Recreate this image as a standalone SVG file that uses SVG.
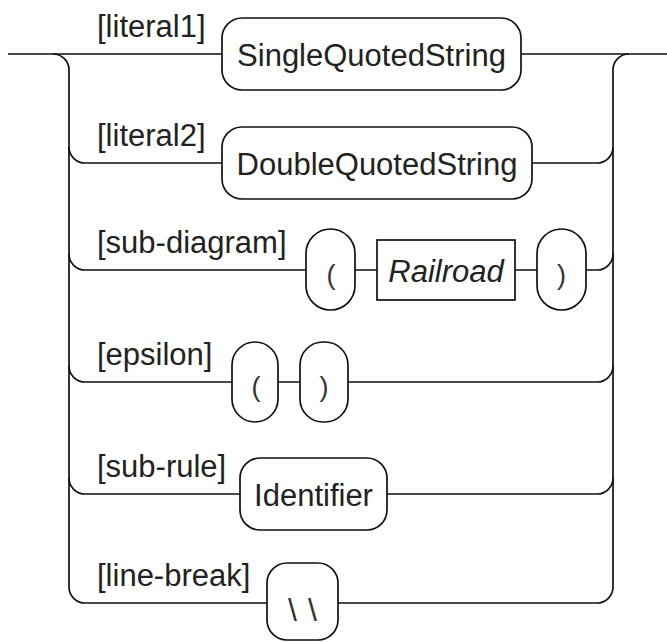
<svg xmlns="http://www.w3.org/2000/svg" width="667" height="642" viewBox="0 0 667 642">
<style>
.c{fill:none;stroke:#111;stroke-width:1.7}
.n{fill:#fff;stroke:#111;stroke-width:1.7}
.t{font-family:"Liberation Sans",Arial,sans-serif;font-size:31px;fill:#222}
.m{text-anchor:middle}
.i{font-style:italic}
.p{font-size:27px;fill:#333}
.b{font-size:32px;fill:#333}
</style>
<rect width="667" height="642" fill="#fff"/>
<g id="connectors">
<path class="c" d="M8,54 H222 M521,54 H667"/>
<path class="c" d="M53,54 A16,16 0 0 1 69,70 V587 A16,16 0 0 0 85,603 H267"/>
<path class="c" d="M69,147 A16,16 0 0 0 85,163 H222"/>
<path class="c" d="M69,254 A16,16 0 0 0 85,270 H306"/>
<path class="c" d="M69,366 A16,16 0 0 0 85,382 H232"/>
<path class="c" d="M69,478 A16,16 0 0 0 85,494 H240"/>
<path class="c" d="M629,54 A16,16 0 0 0 613,70 V587 A16,16 0 0 1 597,603 H338"/>
<path class="c" d="M532,163 H597 A16,16 0 0 0 613,147"/>
<path class="c" d="M586,270 H597 A16,16 0 0 0 613,254"/>
<path class="c" d="M348,382 H597 A16,16 0 0 0 613,366"/>
<path class="c" d="M387,494 H597 A16,16 0 0 0 613,478"/>
<path class="c" d="M355,270 H377 M515,270 H537 M278,382 H300"/>
</g>
<g id="labels">
<text class="t" x="97" y="37">[literal1]</text>
<text class="t" x="97" y="146">[literal2]</text>
<text class="t" x="97" y="253">[sub-diagram]</text>
<text class="t" x="97" y="365">[epsilon]</text>
<text class="t" x="97" y="477">[sub-rule]</text>
<text class="t" x="97" y="586">[line-break]</text>
</g>
<g id="node-single">
<rect class="n" x="222" y="18" width="299" height="72" rx="20"/>
<text class="t m" x="371.5" y="66">SingleQuotedString</text>
</g>
<g id="node-double">
<rect class="n" x="222" y="127" width="310" height="72" rx="20"/>
<text class="t m" x="377" y="175">DoubleQuotedString</text>
</g>
<g id="node-open1">
<rect class="n" x="306" y="229" width="49" height="81" rx="24.5"/>
<text class="t m p" x="331" y="284">(</text>
</g>
<g id="node-railroad">
<rect class="n" x="377" y="240" width="138" height="60"/>
<text class="t m i" x="446" y="282">Railroad</text>
</g>
<g id="node-close1">
<rect class="n" x="537" y="229" width="49" height="81" rx="24.5"/>
<text class="t m p" x="561.5" y="284">)</text>
</g>
<g id="node-open2">
<rect class="n" x="232" y="342" width="46" height="80" rx="23"/>
<text class="t m p" x="256" y="396">(</text>
</g>
<g id="node-close2">
<rect class="n" x="300" y="342" width="48" height="80" rx="23"/>
<text class="t m p" x="324" y="396">)</text>
</g>
<g id="node-identifier">
<rect class="n" x="240" y="458" width="147" height="72" rx="20"/>
<text class="t m" x="313.5" y="506">Identifier</text>
</g>
<g id="node-linebreak">
<rect class="n" x="267" y="563" width="71" height="77" rx="20"/>
<text class="t m b" x="308" y="621" letter-spacing="11">\\</text>
</g>
</svg>
